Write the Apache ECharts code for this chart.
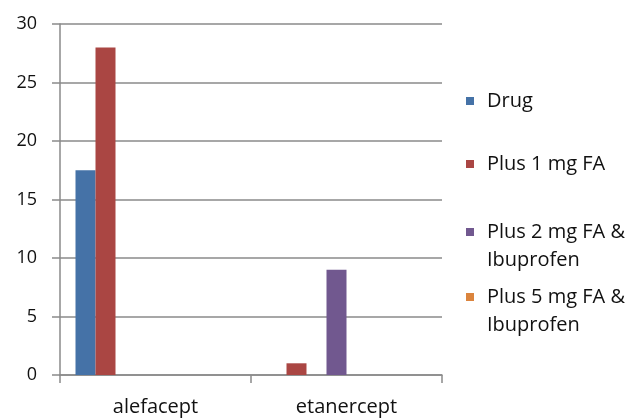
<!DOCTYPE html>
<html>
<head>
<meta charset="utf-8">
<script src="https://cdn.jsdelivr.net/npm/echarts@6/dist/echarts.min.js"></script>
<style>
  html, body { margin: 0; padding: 0; background: #fff; }
  #chart { width: 634px; height: 419px; }
</style>
</head>
<body>
<div id="chart"></div>
<script>
// Treatments along the x axis
const categories = ['alefacept', 'etanercept'];

// Response values per regimen
const drug     = [17.5, 0];
const plus1mg  = [28, 1];
const plus2mg  = [0, 9];
const plus5mg  = [0, 0];

// Value axis ticks
const yTicks = [0, 5, 10, 15, 20, 25, 30];

// Legend texts
const legendNames = ['Drug', 'Plus 1 mg FA', 'Plus 2 mg FA & Ibuprofen', 'Plus 5 mg FA & Ibuprofen'];
const legendLabels = ['Drug', 'Plus 1 mg FA', 'Plus 2 mg FA &\nIbuprofen', 'Plus 5 mg FA &\nIbuprofen'];

const colors = ['#4572A7', '#AA4643', '#71588F', '#DB843D'];
const FONT = '"Open Sans", sans-serif';
const GRID = '#8a8a8a';

// The workbook reserves eight column slots per category; four carry data.
const slotData = [
  { name: legendNames[0], data: drug, color: colors[0] },
  { name: legendNames[1], data: plus1mg, color: colors[1] },
  { name: 'slot 3', data: [], color: '#999' },
  { name: legendNames[2], data: plus2mg, color: colors[2] },
  { name: legendNames[3], data: plus5mg, color: colors[3] },
  { name: 'slot 6', data: [], color: '#999' },
  { name: 'slot 7', data: [], color: '#999' },
  { name: 'slot 8', data: [], color: '#999' }
];

const series = slotData.map(s => ({
  name: s.name,
  type: 'bar',
  data: s.data,
  barWidth: 20,
  barGap: '0%',
  itemStyle: { color: s.color },
  silent: true
}));

// One legend block per entry so each row sits at its own height.
// Wrapped entries get an empty leading line so the swatch lines up
// with the first text line.
const legendTops = [87, 150, 190, 255];
const legends = legendNames.map((n, i) => {
  const twoLine = legendLabels[i].indexOf('\n') >= 0;
  const text = twoLine ? '\n' + legendLabels[i] : legendLabels[i];
  return {
    data: [n],
    left: 466,
    top: legendTops[i],
    padding: 0,
    orient: 'vertical',
    itemWidth: 8,
    itemHeight: 8,
    itemGap: 0,
    icon: 'rect',
    selectedMode: false,
    formatter: () => text,
    textStyle: {
      fontFamily: FONT,
      fontSize: 20,
      color: '#111',
      lineHeight: 28,
      padding: [0, 0, 0, 8]
    }
  };
});

const chart = echarts.init(document.getElementById('chart'), null, { renderer: 'canvas' });
chart.setOption({
  animation: false,
  color: colors,
  grid: { left: 60, right: 192, top: 24, bottom: 44, containLabel: false },
  legend: legends,
  xAxis: {
    type: 'category',
    data: categories,
    boundaryGap: true,
    axisLine: { show: true, lineStyle: { color: GRID, width: 1.5 } },
    axisTick: { show: true, length: 8, alignWithLabel: false, lineStyle: { color: GRID, width: 1.5 } },
    axisLabel: { margin: 22, fontFamily: FONT, fontSize: 20, color: '#111' },
    splitLine: { show: false }
  },
  yAxis: {
    type: 'value',
    min: yTicks[0],
    max: yTicks[yTicks.length - 1],
    interval: yTicks[1] - yTicks[0],
    axisLine: { show: true, lineStyle: { color: GRID, width: 1.5 } },
    axisTick: { show: true, length: 8, lineStyle: { color: GRID, width: 1.5 } },
    axisLabel: { margin: 23, fontFamily: FONT, fontSize: 18, color: '#111' },
    splitLine: { show: true, lineStyle: { color: GRID, width: 1.5 } }
  },
  series: series
});
</script>
</body>
</html>
